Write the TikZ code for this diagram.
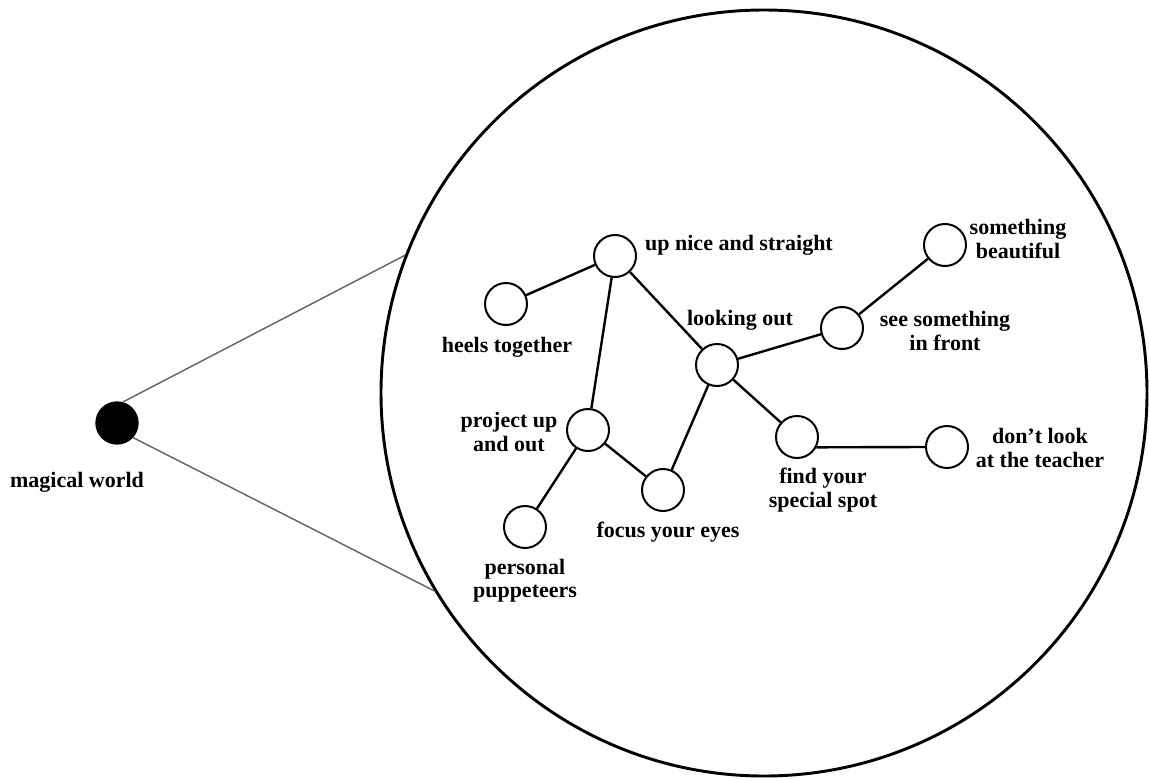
\documentclass[tikz,border=0pt]{standalone}
\usepackage{fontspec}
\setmainfont{Liberation Serif}
\begin{document}
\begin{tikzpicture}[x=0.75pt,y=-0.75pt,
  spot/.style={circle,draw=black,line width=1.5pt,fill=white,minimum size=31.5pt,inner sep=0pt},
  label/.style={font=\fontsize{16.5}{17.5}\selectfont\bfseries,align=center,inner sep=0pt,text=black},
  link/.style={line width=1.8pt,black},
  zoomline/.style={line width=1.1pt,black!60}]
\useasboundingbox (0,0) rectangle (1149,778);

% the magnified world
\node[circle,draw=black,line width=2.2pt,minimum size=574.5pt,inner sep=0pt] (world) at (764,393) {};

% the point that is magnified
\node[circle,fill=black,minimum size=32.5pt,inner sep=0pt] (dot) at (117,423) {};
\node[label] (dotlbl) at (77,482) {magical world};
\draw[zoomline] (dot.74) -- (world.159.5);
\draw[zoomline] (dot.-42) -- (world.211.8);

% idea nodes
\node[spot] (up)      at (615,256) {};
\node[spot] (heels)   at (506,304) {};
\node[spot] (look)    at (717,365) {};
\node[spot] (see)     at (842,328) {};
\node[spot] (beau)    at (945,245) {};
\node[spot] (proj)    at (588,430) {};
\node[spot] (focus)   at (663,490) {};
\node[spot] (pupp)    at (525,527) {};
\node[spot] (find)    at (797,437) {};
\node[spot] (dont)    at (947,447) {};

% connections
\draw[link] (up) -- (heels);
\draw[link] (up) -- (proj);
\draw[link] (up) -- (look);
\draw[link] (look) -- (see);
\draw[link] (see) -- (beau);
\draw[link] (look) -- (focus);
\draw[link] (look) -- (find);
\draw[link] (proj) -- (focus);
\draw[link] (proj) -- (pupp);
\draw[link] (find.-28) -- (dont.west);

% labels
\node[label] (uplbl)    at (739,245) {up nice and straight};
\node[label] (heelslbl) at (507,347) {heels together};
\node[label] (looklbl)  at (740,320) {looking out};
\node[label] (seelbl)   at (945,331) {see something\\in front};
\node[label] (beaulbl)  at (1018,239) {something\\beautiful};
\node[label] (projlbl)  at (509,432) {project up\\and out};
\node[label] (pupplbl)  at (525,581) {personal\\puppeteers};
\node[label] (focuslbl) at (668,532) {focus your eyes};
\node[label] (findlbl)  at (823,490) {find your\\special spot};
\node[label] (dontlbl)  at (1040,448) {don’t look\\at the teacher};
\end{tikzpicture}
\end{document}
